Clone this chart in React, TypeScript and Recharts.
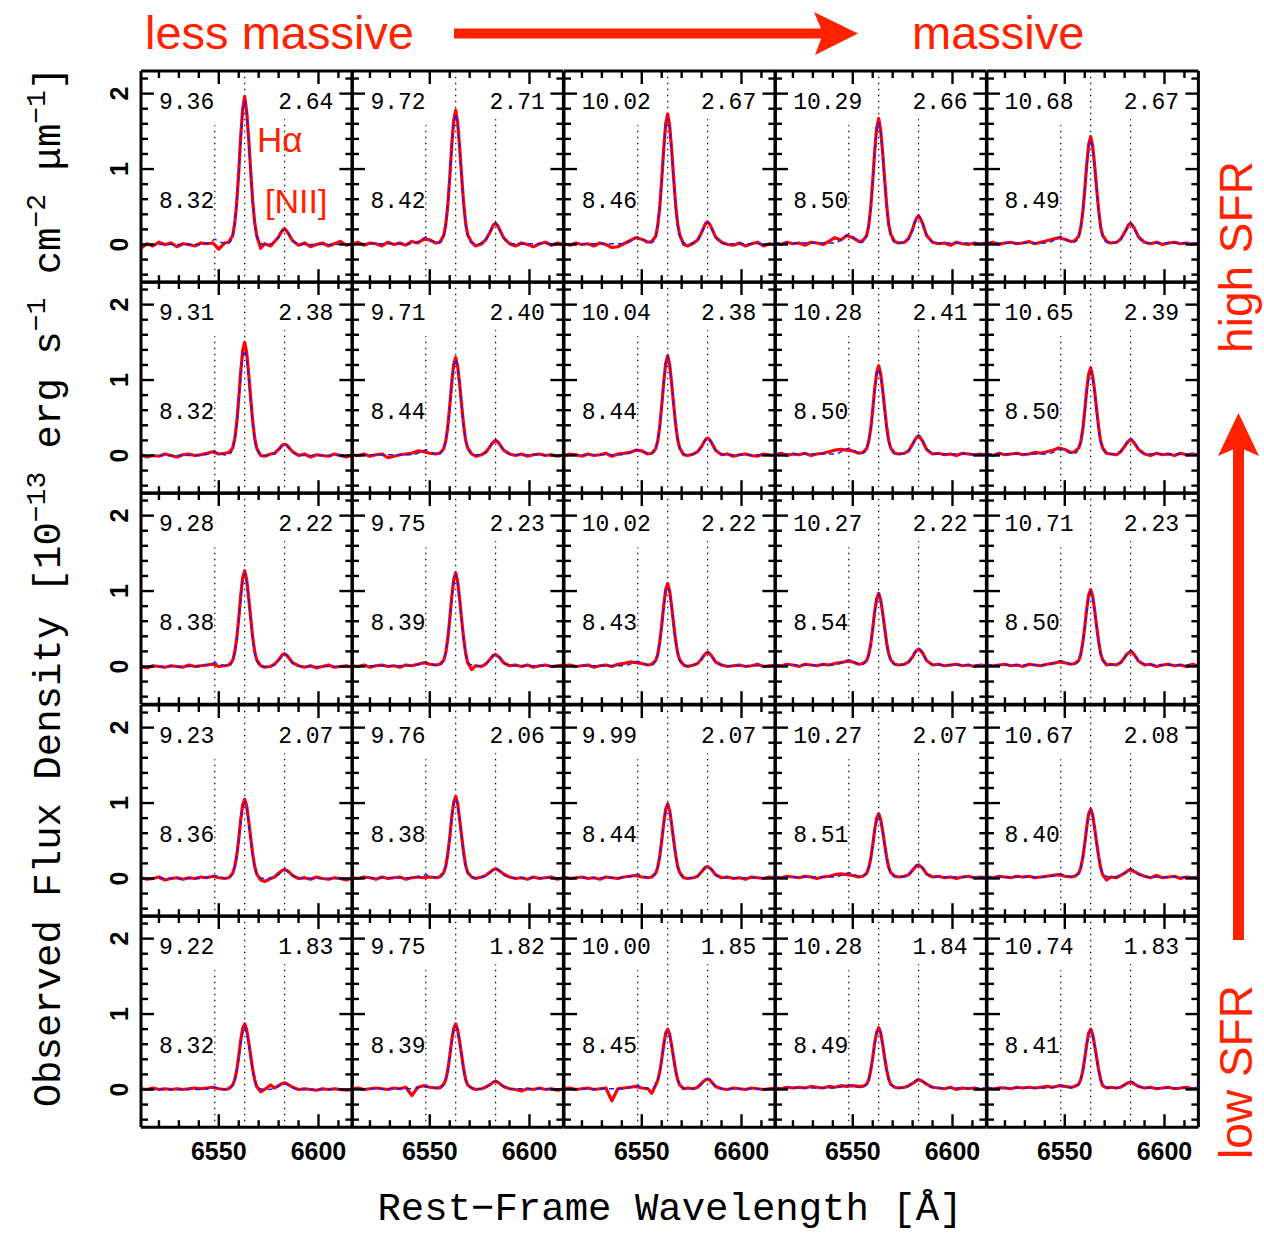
import React from "react";
import { LineChart, Line, XAxis, YAxis, ReferenceLine } from "recharts";

// wavelength grids (rest frame, Angstrom)
const WAVE_OBS = [6511, 6514, 6517, 6520, 6523, 6526, 6529, 6532, 6535, 6538, 6541, 6544, 6547, 6550, 6553, 6555, 6557, 6558, 6559, 6560, 6561, 6562, 6563, 6564, 6565, 6566, 6567, 6568, 6569, 6571, 6573, 6576, 6578, 6580, 6581, 6582, 6583, 6584, 6585, 6587, 6590, 6593, 6596, 6599, 6602, 6605, 6608, 6611, 6614, 6617];
const WAVE_FIT = [6511, 6542, 6545, 6548, 6551, 6554, 6556, 6557, 6558, 6559, 6560, 6561, 6562, 6563, 6564, 6565, 6566, 6567, 6568, 6569, 6570, 6572, 6575, 6578, 6580, 6581, 6582, 6583, 6584, 6585, 6586, 6588, 6591, 6617];

// observed stacked spectra, one row per SFR bin (high -> low), columns by mass
const OBS_1 = [
  [-0.05, 0.01, -0.02, 0.03, 0.00, 0.02, -0.03, 0.01, 0.00, -0.02, 0.02, 0.01, 0.02, -0.06, 0.02, 0.03, 0.12, 0.28, 0.55, 0.96, 1.43, 1.80, 1.96, 1.76, 1.40, 0.98, 0.58, 0.29, 0.12, -0.05, 0.01, -0.02, 0.04, 0.10, 0.15, 0.19, 0.21, 0.18, 0.14, 0.05, -0.01, 0.02, -0.03, 0.00, 0.02, -0.02, 0.01, 0.04, -0.01, 0.01],
  [0.00, 0.03, -0.01, 0.02, 0.01, -0.02, 0.03, 0.00, 0.02, -0.01, 0.04, 0.02, 0.07, 0.06, 0.02, 0.03, 0.12, 0.26, 0.51, 0.88, 1.31, 1.65, 1.78, 1.61, 1.28, 0.90, 0.54, 0.28, 0.13, 0.03, -0.02, 0.01, 0.06, 0.15, 0.21, 0.26, 0.28, 0.25, 0.20, 0.09, 0.01, -0.02, 0.02, 0.00, -0.03, 0.01, 0.03, -0.01, 0.02, 0.00],
  [0.01, -0.01, 0.02, 0.00, 0.01, -0.02, 0.02, 0.00, -0.04, -0.03, 0.01, 0.05, 0.09, 0.07, 0.03, 0.04, 0.11, 0.25, 0.49, 0.86, 1.27, 1.60, 1.73, 1.57, 1.25, 0.88, 0.52, 0.27, 0.13, 0.00, -0.02, 0.02, 0.06, 0.16, 0.22, 0.28, 0.30, 0.27, 0.22, 0.10, 0.03, 0.00, -0.01, 0.02, -0.02, 0.01, 0.03, -0.02, 0.01, 0.00],
  [0.02, 0.00, 0.03, 0.01, 0.02, -0.01, 0.03, 0.02, 0.00, 0.04, 0.09, 0.06, 0.12, 0.09, 0.04, 0.05, 0.12, 0.25, 0.49, 0.84, 1.24, 1.55, 1.67, 1.51, 1.21, 0.86, 0.52, 0.27, 0.14, 0.04, 0.02, 0.03, 0.08, 0.20, 0.29, 0.35, 0.38, 0.34, 0.28, 0.12, 0.03, 0.01, 0.02, -0.01, 0.03, 0.01, 0.00, 0.02, 0.01, 0.02],
  [0.01, 0.03, 0.00, 0.02, 0.03, 0.01, 0.02, 0.04, 0.01, 0.03, 0.05, 0.07, 0.09, 0.07, 0.04, 0.05, 0.11, 0.22, 0.42, 0.72, 1.06, 1.33, 1.43, 1.30, 1.04, 0.74, 0.45, 0.23, 0.12, 0.04, 0.02, 0.03, 0.07, 0.16, 0.21, 0.26, 0.28, 0.25, 0.21, 0.10, 0.03, 0.01, 0.03, 0.00, 0.02, 0.03, 0.01, 0.02, 0.00, 0.02],
];
const OBS_2 = [
  [0.01, -0.02, 0.00, -0.01, 0.02, 0.00, -0.02, 0.01, 0.02, 0.00, 0.01, 0.03, 0.05, 0.02, 0.03, 0.04, 0.10, 0.22, 0.43, 0.75, 1.11, 1.39, 1.50, 1.36, 1.08, 0.76, 0.46, 0.23, 0.10, 0.00, -0.01, 0.02, 0.03, 0.08, 0.11, 0.14, 0.15, 0.14, 0.11, 0.05, 0.00, 0.02, -0.02, 0.01, 0.00, -0.01, 0.02, 0.00, -0.02, 0.01],
  [0.01, 0.00, 0.02, -0.01, 0.01, 0.02, -0.03, -0.01, 0.01, 0.02, 0.03, 0.06, 0.05, 0.03, 0.02, 0.03, 0.09, 0.19, 0.37, 0.65, 0.96, 1.21, 1.30, 1.18, 0.94, 0.66, 0.40, 0.20, 0.10, 0.02, -0.01, 0.01, 0.04, 0.11, 0.15, 0.18, 0.20, 0.18, 0.15, 0.07, 0.02, 0.00, 0.02, -0.01, 0.01, 0.02, 0.00, 0.01, -0.01, 0.01],
  [0.00, 0.02, 0.01, -0.01, 0.02, 0.00, 0.01, 0.03, -0.01, 0.02, 0.03, 0.04, 0.07, 0.06, 0.02, 0.03, 0.09, 0.19, 0.38, 0.66, 0.97, 1.22, 1.32, 1.20, 0.95, 0.67, 0.41, 0.21, 0.10, 0.01, 0.00, 0.02, 0.05, 0.12, 0.17, 0.21, 0.23, 0.21, 0.17, 0.07, 0.01, 0.02, -0.01, 0.01, 0.02, 0.00, -0.01, 0.02, 0.01, 0.00],
  [0.01, 0.03, 0.00, 0.02, 0.01, 0.03, 0.00, 0.02, 0.03, 0.05, 0.07, 0.08, 0.07, 0.06, 0.03, 0.04, 0.09, 0.19, 0.35, 0.60, 0.89, 1.10, 1.19, 1.08, 0.87, 0.62, 0.38, 0.20, 0.10, 0.03, 0.02, 0.03, 0.06, 0.15, 0.20, 0.24, 0.26, 0.23, 0.19, 0.08, 0.02, 0.03, 0.01, 0.02, 0.00, 0.03, 0.02, 0.01, 0.02, 0.01],
  [0.02, 0.00, 0.03, 0.01, 0.02, 0.03, 0.01, 0.02, 0.04, 0.03, 0.05, 0.07, 0.10, 0.08, 0.04, 0.05, 0.10, 0.18, 0.34, 0.59, 0.87, 1.08, 1.16, 1.05, 0.85, 0.60, 0.37, 0.19, 0.10, 0.03, 0.02, 0.01, 0.05, 0.12, 0.16, 0.19, 0.21, 0.19, 0.16, 0.08, 0.02, 0.00, 0.03, 0.01, 0.02, 0.00, 0.03, 0.01, 0.02, 0.01],
];
const OBS_3 = [
  [0.00, -0.02, 0.01, 0.00, -0.01, 0.01, 0.00, -0.01, 0.02, 0.00, 0.01, 0.02, 0.03, 0.00, 0.01, 0.02, 0.08, 0.19, 0.37, 0.63, 0.94, 1.18, 1.27, 1.15, 0.91, 0.65, 0.39, 0.20, 0.09, 0.01, -0.01, 0.00, 0.03, 0.09, 0.12, 0.16, 0.17, 0.15, 0.12, 0.05, 0.01, -0.01, 0.01, -0.02, 0.00, 0.02, -0.01, 0.00, 0.01, -0.01],
  [0.01, 0.00, 0.02, -0.01, 0.01, 0.02, 0.00, 0.01, -0.01, 0.02, 0.01, 0.03, 0.05, 0.03, 0.02, 0.03, 0.08, 0.18, 0.36, 0.62, 0.92, 1.15, 1.24, 1.12, 0.89, 0.62, 0.37, 0.17, 0.05, -0.04, 0.01, 0.00, 0.03, 0.09, 0.12, 0.15, 0.16, 0.14, 0.12, 0.05, 0.01, 0.02, 0.00, 0.02, -0.01, 0.01, 0.02, 0.00, 0.01, 0.02],
  [0.01, 0.02, 0.00, 0.01, 0.02, -0.01, 0.01, 0.02, 0.00, 0.03, 0.04, 0.06, 0.05, 0.04, 0.02, 0.03, 0.08, 0.16, 0.32, 0.55, 0.81, 1.02, 1.10, 1.00, 0.79, 0.56, 0.34, 0.18, 0.09, 0.02, 0.00, 0.02, 0.04, 0.10, 0.14, 0.17, 0.19, 0.17, 0.14, 0.06, 0.02, 0.00, 0.01, 0.02, 0.00, 0.01, 0.03, 0.00, 0.01, 0.02],
  [0.02, 0.01, 0.03, 0.02, 0.00, 0.03, 0.02, 0.01, 0.03, 0.02, 0.04, 0.05, 0.07, 0.06, 0.03, 0.04, 0.08, 0.16, 0.29, 0.50, 0.73, 0.90, 0.97, 0.88, 0.71, 0.51, 0.31, 0.17, 0.09, 0.03, 0.02, 0.03, 0.06, 0.13, 0.18, 0.21, 0.23, 0.21, 0.18, 0.08, 0.02, 0.03, 0.01, 0.02, 0.03, 0.01, 0.02, 0.00, 0.02, 0.01],
  [0.02, 0.01, 0.02, 0.03, 0.01, 0.02, 0.00, 0.03, 0.02, 0.01, 0.03, 0.04, 0.06, 0.05, 0.03, 0.04, 0.08, 0.16, 0.31, 0.52, 0.76, 0.95, 1.02, 0.93, 0.74, 0.53, 0.33, 0.17, 0.09, 0.02, 0.03, 0.02, 0.05, 0.12, 0.16, 0.18, 0.20, 0.18, 0.15, 0.07, 0.02, 0.03, 0.00, 0.02, 0.03, 0.01, 0.02, 0.00, 0.03, 0.01],
];
const OBS_4 = [
  [0.01, -0.01, 0.00, 0.02, -0.02, 0.00, 0.01, -0.01, 0.01, 0.00, 0.02, 0.01, 0.03, 0.01, 0.00, 0.01, 0.07, 0.16, 0.30, 0.52, 0.78, 0.98, 1.05, 0.96, 0.76, 0.54, 0.33, 0.16, 0.06, -0.02, -0.04, 0.00, 0.02, 0.07, 0.09, 0.11, 0.12, 0.11, 0.09, 0.04, 0.00, 0.01, -0.01, 0.02, 0.00, -0.01, 0.01, 0.00, -0.02, 0.01],
  [0.01, 0.00, 0.02, 0.01, -0.01, 0.02, 0.00, 0.01, 0.02, -0.01, 0.01, 0.02, 0.01, 0.02, 0.01, 0.02, 0.08, 0.16, 0.32, 0.54, 0.81, 1.01, 1.09, 0.99, 0.78, 0.56, 0.34, 0.17, 0.08, 0.02, 0.00, 0.02, 0.04, 0.08, 0.10, 0.12, 0.13, 0.12, 0.10, 0.06, 0.02, 0.00, 0.01, -0.01, 0.02, 0.00, 0.01, 0.02, -0.01, 0.01],
  [0.02, 0.00, 0.01, 0.02, 0.00, 0.01, -0.01, 0.02, 0.01, 0.00, 0.02, 0.03, 0.04, 0.02, 0.01, 0.02, 0.07, 0.15, 0.29, 0.50, 0.73, 0.92, 0.99, 0.90, 0.71, 0.51, 0.31, 0.16, 0.08, 0.01, 0.00, 0.01, 0.03, 0.09, 0.12, 0.15, 0.16, 0.14, 0.12, 0.05, 0.01, 0.02, 0.00, 0.01, -0.01, 0.02, 0.01, 0.00, 0.02, 0.01],
  [0.02, 0.01, 0.03, 0.02, 0.01, 0.03, 0.02, 0.00, 0.02, 0.03, 0.05, 0.06, 0.05, 0.04, 0.02, 0.03, 0.07, 0.14, 0.26, 0.44, 0.65, 0.80, 0.86, 0.78, 0.63, 0.45, 0.28, 0.15, 0.08, 0.03, 0.02, 0.03, 0.05, 0.11, 0.14, 0.17, 0.18, 0.16, 0.14, 0.06, 0.02, 0.03, 0.01, 0.02, 0.00, 0.02, 0.03, 0.01, 0.02, 0.01],
  [0.02, 0.01, 0.03, 0.02, 0.01, 0.03, 0.02, 0.03, 0.01, 0.02, 0.03, 0.04, 0.05, 0.03, 0.02, 0.03, 0.07, 0.14, 0.27, 0.46, 0.68, 0.86, 0.92, 0.84, 0.66, 0.47, 0.29, 0.14, 0.05, -0.02, 0.02, 0.01, 0.04, 0.07, 0.09, 0.11, 0.12, 0.10, 0.09, 0.06, 0.03, 0.01, 0.04, 0.01, 0.02, 0.03, 0.00, 0.02, 0.01, 0.02],
];
const OBS_5 = [
  [0.01, 0.00, 0.02, 0.00, 0.01, 0.00, 0.01, 0.00, 0.01, 0.02, 0.01, 0.02, 0.03, 0.01, 0.00, 0.01, 0.06, 0.13, 0.25, 0.44, 0.65, 0.81, 0.87, 0.79, 0.63, 0.45, 0.27, 0.13, 0.04, -0.03, 0.00, 0.06, 0.02, 0.05, 0.07, 0.08, 0.09, 0.08, 0.06, 0.03, 0.00, 0.01, 0.00, -0.01, 0.01, 0.00, 0.01, 0.00, -0.01, 0.00],
  [0.01, 0.02, 0.00, 0.01, 0.02, 0.01, 0.00, 0.02, 0.01, 0.03, -0.08, 0.03, 0.05, 0.03, 0.02, 0.02, 0.07, 0.13, 0.25, 0.44, 0.65, 0.81, 0.87, 0.79, 0.63, 0.45, 0.27, 0.13, 0.06, 0.02, 0.00, 0.01, 0.03, 0.06, 0.08, 0.10, 0.11, 0.10, 0.08, 0.04, 0.01, 0.00, -0.02, 0.01, 0.00, 0.02, 0.00, 0.01, -0.01, 0.01],
  [0.01, 0.02, 0.00, 0.01, 0.02, 0.00, 0.01, 0.02, -0.15, 0.01, 0.02, 0.03, 0.04, 0.02, 0.01, -0.05, 0.06, 0.12, 0.23, 0.40, 0.59, 0.75, 0.80, 0.73, 0.58, 0.41, 0.25, 0.13, 0.06, 0.01, 0.02, 0.01, 0.03, 0.08, 0.11, 0.13, 0.14, 0.13, 0.10, 0.04, 0.01, 0.00, 0.02, 0.01, 0.00, 0.02, 0.01, 0.00, 0.01, 0.02],
  [0.02, 0.01, 0.03, 0.02, 0.03, 0.02, 0.04, 0.03, 0.02, 0.04, 0.03, 0.05, 0.04, 0.05, 0.04, 0.04, 0.07, 0.13, 0.25, 0.42, 0.62, 0.76, 0.82, 0.75, 0.60, 0.42, 0.26, 0.14, 0.07, 0.03, 0.02, 0.03, 0.05, 0.08, 0.10, 0.12, 0.13, 0.12, 0.11, 0.07, 0.03, 0.02, 0.01, 0.03, 0.00, 0.02, 0.01, 0.02, 0.00, 0.01],
  [0.02, 0.01, 0.02, 0.02, 0.01, 0.03, 0.02, 0.03, 0.02, 0.03, 0.04, 0.03, 0.05, 0.04, 0.03, 0.04, 0.07, 0.13, 0.24, 0.41, 0.60, 0.75, 0.80, 0.73, 0.58, 0.42, 0.26, 0.13, 0.05, 0.02, 0.03, 0.02, 0.03, 0.06, 0.08, 0.09, 0.10, 0.09, 0.07, 0.04, 0.02, 0.03, 0.01, 0.02, 0.03, 0.01, 0.02, 0.03, 0.01, 0.02],
];

// best-fit line profiles (blue)
const FIT_1 = [
  [0, 0, 0.03, 0.07, 0.03, 0, 0.04, 0.11, 0.27, 0.53, 0.93, 1.39, 1.75, 1.90, 1.75, 1.39, 0.93, 0.53, 0.27, 0.11, 0.04, 0, 0, 0.03, 0.10, 0.15, 0.18, 0.20, 0.18, 0.15, 0.10, 0.03, 0, 0],
  [0.01, 0.01, 0.05, 0.10, 0.05, 0.01, 0.04, 0.11, 0.25, 0.49, 0.85, 1.27, 1.59, 1.73, 1.59, 1.27, 0.85, 0.49, 0.25, 0.11, 0.04, 0.01, 0.01, 0.05, 0.14, 0.21, 0.26, 0.28, 0.26, 0.21, 0.14, 0.05, 0.01, 0.01],
  [0.01, 0.01, 0.06, 0.10, 0.06, 0.01, 0.04, 0.11, 0.24, 0.48, 0.82, 1.22, 1.54, 1.67, 1.54, 1.22, 0.82, 0.48, 0.24, 0.11, 0.04, 0.01, 0.01, 0.05, 0.15, 0.21, 0.27, 0.29, 0.27, 0.21, 0.15, 0.05, 0.01, 0.01],
  [0.02, 0.02, 0.08, 0.14, 0.08, 0.02, 0.05, 0.12, 0.24, 0.47, 0.80, 1.19, 1.49, 1.62, 1.49, 1.19, 0.80, 0.47, 0.24, 0.12, 0.05, 0.02, 0.02, 0.07, 0.20, 0.28, 0.35, 0.38, 0.35, 0.28, 0.20, 0.07, 0.02, 0.02],
  [0.02, 0.02, 0.06, 0.11, 0.06, 0.02, 0.05, 0.10, 0.21, 0.40, 0.69, 1.01, 1.27, 1.38, 1.27, 1.01, 0.69, 0.40, 0.21, 0.10, 0.05, 0.02, 0.02, 0.06, 0.15, 0.21, 0.26, 0.28, 0.26, 0.21, 0.15, 0.06, 0.02, 0.02],
];
const FIT_2 = [
  [0, 0, 0.02, 0.05, 0.02, 0, 0.03, 0.08, 0.20, 0.39, 0.69, 1.02, 1.29, 1.40, 1.29, 1.02, 0.69, 0.39, 0.20, 0.08, 0.03, 0, 0, 0.02, 0.07, 0.10, 0.13, 0.14, 0.13, 0.10, 0.07, 0.02, 0, 0],
  [0.01, 0.01, 0.04, 0.08, 0.04, 0.01, 0.04, 0.09, 0.19, 0.37, 0.63, 0.94, 1.18, 1.28, 1.18, 0.94, 0.63, 0.37, 0.19, 0.09, 0.04, 0.01, 0.01, 0.04, 0.11, 0.16, 0.19, 0.21, 0.19, 0.16, 0.11, 0.04, 0.01, 0.01],
  [0.01, 0.01, 0.05, 0.08, 0.05, 0.01, 0.04, 0.09, 0.19, 0.37, 0.65, 0.96, 1.21, 1.31, 1.21, 0.96, 0.65, 0.37, 0.19, 0.09, 0.04, 0.01, 0.01, 0.04, 0.12, 0.17, 0.21, 0.23, 0.21, 0.17, 0.12, 0.04, 0.01, 0.01],
  [0.02, 0.02, 0.06, 0.10, 0.06, 0.02, 0.04, 0.09, 0.18, 0.34, 0.57, 0.85, 1.06, 1.15, 1.06, 0.85, 0.57, 0.34, 0.18, 0.09, 0.04, 0.02, 0.02, 0.06, 0.14, 0.20, 0.25, 0.27, 0.25, 0.20, 0.14, 0.06, 0.02, 0.02],
  [0.02, 0.02, 0.05, 0.09, 0.05, 0.02, 0.04, 0.09, 0.17, 0.32, 0.55, 0.81, 1.01, 1.10, 1.01, 0.81, 0.55, 0.32, 0.17, 0.09, 0.04, 0.02, 0.02, 0.05, 0.12, 0.17, 0.21, 0.23, 0.21, 0.17, 0.12, 0.05, 0.02, 0.02],
];
const FIT_3 = [
  [0, 0, 0.03, 0.05, 0.03, 0, 0.02, 0.07, 0.17, 0.34, 0.60, 0.89, 1.12, 1.22, 1.12, 0.89, 0.60, 0.34, 0.17, 0.07, 0.02, 0, 0, 0.02, 0.08, 0.12, 0.15, 0.16, 0.15, 0.12, 0.08, 0.02, 0, 0],
  [0.01, 0.01, 0.03, 0.06, 0.03, 0.01, 0.03, 0.08, 0.18, 0.35, 0.60, 0.89, 1.11, 1.21, 1.11, 0.89, 0.60, 0.35, 0.18, 0.08, 0.03, 0.01, 0.01, 0.03, 0.08, 0.12, 0.15, 0.16, 0.15, 0.12, 0.08, 0.03, 0.01, 0.01],
  [0.01, 0.01, 0.04, 0.07, 0.04, 0.01, 0.03, 0.07, 0.16, 0.30, 0.52, 0.77, 0.97, 1.05, 0.97, 0.77, 0.52, 0.30, 0.16, 0.07, 0.03, 0.01, 0.01, 0.04, 0.10, 0.14, 0.18, 0.19, 0.18, 0.14, 0.10, 0.04, 0.01, 0.01],
  [0.02, 0.02, 0.06, 0.09, 0.06, 0.02, 0.04, 0.08, 0.15, 0.28, 0.48, 0.71, 0.89, 0.96, 0.89, 0.71, 0.48, 0.28, 0.15, 0.08, 0.04, 0.02, 0.02, 0.05, 0.13, 0.18, 0.22, 0.24, 0.22, 0.18, 0.13, 0.05, 0.02, 0.02],
  [0.02, 0.02, 0.05, 0.08, 0.05, 0.02, 0.04, 0.08, 0.16, 0.29, 0.50, 0.73, 0.91, 0.99, 0.91, 0.73, 0.50, 0.29, 0.16, 0.08, 0.04, 0.02, 0.02, 0.05, 0.11, 0.16, 0.20, 0.21, 0.20, 0.16, 0.11, 0.05, 0.02, 0.02],
];
const FIT_4 = [
  [0, 0, 0.02, 0.04, 0.02, 0, 0.02, 0.06, 0.14, 0.28, 0.49, 0.73, 0.92, 1.00, 0.92, 0.73, 0.49, 0.28, 0.14, 0.06, 0.02, 0, 0, 0.02, 0.05, 0.08, 0.10, 0.11, 0.10, 0.08, 0.05, 0.02, 0, 0],
  [0.01, 0.01, 0.03, 0.05, 0.03, 0.01, 0.03, 0.07, 0.16, 0.30, 0.52, 0.78, 0.98, 1.06, 0.98, 0.78, 0.52, 0.30, 0.16, 0.07, 0.03, 0.01, 0.01, 0.03, 0.07, 0.10, 0.12, 0.13, 0.12, 0.10, 0.07, 0.03, 0.01, 0.01],
  [0.01, 0.01, 0.03, 0.06, 0.03, 0.01, 0.03, 0.07, 0.14, 0.28, 0.48, 0.71, 0.89, 0.97, 0.89, 0.71, 0.48, 0.28, 0.14, 0.07, 0.03, 0.01, 0.01, 0.03, 0.08, 0.12, 0.15, 0.16, 0.15, 0.12, 0.08, 0.03, 0.01, 0.01],
  [0.02, 0.02, 0.05, 0.08, 0.05, 0.02, 0.04, 0.07, 0.14, 0.25, 0.42, 0.62, 0.77, 0.84, 0.77, 0.62, 0.42, 0.25, 0.14, 0.07, 0.04, 0.02, 0.02, 0.04, 0.10, 0.14, 0.18, 0.19, 0.18, 0.14, 0.10, 0.04, 0.02, 0.02],
  [0.02, 0.02, 0.04, 0.06, 0.04, 0.02, 0.04, 0.07, 0.14, 0.27, 0.45, 0.66, 0.83, 0.90, 0.83, 0.66, 0.45, 0.27, 0.14, 0.07, 0.04, 0.02, 0.02, 0.04, 0.07, 0.10, 0.12, 0.13, 0.12, 0.10, 0.07, 0.04, 0.02, 0.02],
];
const FIT_5 = [
  [0, 0, 0.01, 0.03, 0.01, 0, 0.02, 0.05, 0.11, 0.23, 0.40, 0.60, 0.75, 0.82, 0.75, 0.60, 0.40, 0.23, 0.11, 0.05, 0.02, 0, 0, 0.01, 0.04, 0.06, 0.07, 0.08, 0.07, 0.06, 0.04, 0.01, 0, 0],
  [0.01, 0.01, 0.03, 0.04, 0.03, 0.01, 0.03, 0.06, 0.13, 0.24, 0.42, 0.62, 0.77, 0.84, 0.77, 0.62, 0.42, 0.24, 0.13, 0.06, 0.03, 0.01, 0.01, 0.02, 0.06, 0.08, 0.10, 0.11, 0.10, 0.08, 0.06, 0.02, 0.01, 0.01],
  [0.01, 0.01, 0.03, 0.05, 0.03, 0.01, 0.03, 0.06, 0.12, 0.22, 0.38, 0.57, 0.71, 0.77, 0.71, 0.57, 0.38, 0.22, 0.12, 0.06, 0.03, 0.01, 0.01, 0.03, 0.07, 0.11, 0.13, 0.14, 0.13, 0.11, 0.07, 0.03, 0.01, 0.01],
  [0.02, 0.02, 0.04, 0.06, 0.04, 0.02, 0.04, 0.07, 0.13, 0.24, 0.40, 0.59, 0.74, 0.80, 0.74, 0.59, 0.40, 0.24, 0.13, 0.07, 0.04, 0.02, 0.02, 0.04, 0.08, 0.11, 0.13, 0.14, 0.13, 0.11, 0.08, 0.04, 0.02, 0.02],
  [0.02, 0.02, 0.03, 0.05, 0.03, 0.02, 0.04, 0.07, 0.13, 0.23, 0.39, 0.57, 0.72, 0.78, 0.72, 0.57, 0.39, 0.23, 0.13, 0.07, 0.04, 0.02, 0.02, 0.03, 0.06, 0.08, 0.10, 0.11, 0.10, 0.08, 0.06, 0.03, 0.02, 0.02],
];

const OBS = [OBS_1, OBS_2, OBS_3, OBS_4, OBS_5];
const FIT = [FIT_1, FIT_2, FIT_3, FIT_4, FIT_5];

// panel annotations: stellar mass, SFR, metallicity
const MASS = [
  ["9.36", "9.72", "10.02", "10.29", "10.68"],
  ["9.31", "9.71", "10.04", "10.28", "10.65"],
  ["9.28", "9.75", "10.02", "10.27", "10.71"],
  ["9.23", "9.76", "9.99", "10.27", "10.67"],
  ["9.22", "9.75", "10.00", "10.28", "10.74"],
];
const SFR = [
  ["2.64", "2.71", "2.67", "2.66", "2.67"],
  ["2.38", "2.40", "2.38", "2.41", "2.39"],
  ["2.22", "2.23", "2.22", "2.22", "2.23"],
  ["2.07", "2.06", "2.07", "2.07", "2.08"],
  ["1.83", "1.82", "1.85", "1.84", "1.83"],
];
const OH = [
  ["8.32", "8.42", "8.46", "8.50", "8.49"],
  ["8.32", "8.44", "8.44", "8.50", "8.50"],
  ["8.38", "8.39", "8.43", "8.54", "8.50"],
  ["8.36", "8.38", "8.44", "8.51", "8.40"],
  ["8.32", "8.39", "8.45", "8.49", "8.41"],
];

const X_TICKS = [6520, 6530, 6540, 6550, 6560, 6570, 6580, 6590, 6600, 6610];
const X_MAJOR = [6550, 6600];
const Y_TICKS = [-0.4, -0.2, 0, 0.2, 0.4, 0.6, 0.8, 1, 1.2, 1.4, 1.6, 1.8, 2, 2.2];
const Y_MAJOR = [0, 1, 2];
const LINE_MARKS = [6548, 6563, 6583];
const LINE_TOPS = [1.58, 2.3, 1.66];

const X0 = 141;
const Y0 = 71;
const PW = 211.4;
const PH = 211.2;
const AX = 2; // thin band reserved for each axis
const X_DOMAIN: [number, number] = [6511, 6617];
const Y_DOMAIN: [number, number] = [-0.5, 2.3];
const RED = "#ff2200";
const FRAME = { stroke: "#000", strokeWidth: 3 };
const MONO = "'Liberation Mono', 'DejaVu Sans Mono', monospace";
const SANS = "'Liberation Sans', Arial, Helvetica, sans-serif";

const xTick = (side: "top" | "bottom", label: boolean) => (props: any) => {
  const { x, y, payload } = props;
  const major = X_MAJOR.includes(payload.value);
  const len = major ? 13 : 7;
  const y2 = side === "bottom" ? y - len : y + len;
  return (
    <g>
      <line x1={x} y1={y} x2={x} y2={y2} stroke="#000" strokeWidth={2.4} />
      {label && major ? (
        <text x={x} y={y + 33} textAnchor="middle" fontFamily={SANS} fontWeight="bold" fontSize={25} fill="#000">
          {payload.value}
        </text>
      ) : null}
    </g>
  );
};

const yTick = (side: "left" | "right", label: boolean) => (props: any) => {
  const { x, y, payload } = props;
  const major = Y_MAJOR.includes(payload.value);
  const len = major ? 13 : 7;
  const x2 = side === "left" ? x + len : x - len;
  return (
    <g>
      <line x1={x} y1={y} x2={x2} y2={y} stroke="#000" strokeWidth={2.4} />
      {label && major ? (
        <text
          x={x - 22}
          y={y}
          transform={`rotate(-90 ${x - 22} ${y})`}
          textAnchor="middle"
          dominantBaseline="central"
          fontFamily={SANS}
          fontWeight="bold"
          fontSize={25}
          fill="#000"
        >
          {payload.value}
        </text>
      ) : null}
    </g>
  );
};

function Panel({ row, col }: { row: number; col: number }) {
  const obs = OBS[row][col];
  const fit = FIT[row][col];
  const obsData = WAVE_OBS.map((w, i) => ({ w, f: obs[i] }));
  const fitData = WAVE_FIT.map((w, i) => ({ w, f: fit[i] }));
  return (
    <div style={{ position: "absolute", left: X0 + col * PW - AX, top: Y0 + row * PH - AX }}>
      <LineChart width={PW + 2 * AX} height={PH + 2 * AX} margin={{ top: 0, right: 0, bottom: 0, left: 0 }}>
        <XAxis xAxisId="b" type="number" dataKey="w" domain={X_DOMAIN} allowDataOverflow ticks={X_TICKS} interval={0}
          height={AX} tickSize={0} tickMargin={0} tickLine={false} axisLine={FRAME} tick={xTick("bottom", row === 4)} />
        <XAxis xAxisId="t" orientation="top" type="number" dataKey="w" domain={X_DOMAIN} allowDataOverflow ticks={X_TICKS} interval={0}
          height={AX} tickSize={0} tickMargin={0} tickLine={false} axisLine={FRAME} tick={xTick("top", false)} />
        <YAxis yAxisId="l" type="number" domain={Y_DOMAIN} allowDataOverflow ticks={Y_TICKS} interval={0}
          width={AX} tickSize={0} tickMargin={0} tickLine={false} axisLine={FRAME} tick={yTick("left", col === 0)} />
        <YAxis yAxisId="r" orientation="right" type="number" domain={Y_DOMAIN} allowDataOverflow ticks={Y_TICKS} interval={0}
          width={AX} tickSize={0} tickMargin={0} tickLine={false} axisLine={FRAME} tick={yTick("right", false)} />
        {LINE_MARKS.map((m, i) => (
          <ReferenceLine key={m} xAxisId="b" yAxisId="l" ifOverflow="visible"
            segment={[{ x: m, y: -0.5 }, { x: m, y: LINE_TOPS[i] }]}
            stroke="#000" strokeWidth={1.2} strokeDasharray="1.5 4.5" />
        ))}
        <Line xAxisId="b" yAxisId="l" data={obsData} dataKey="f" type="linear" stroke="#ff0000" strokeWidth={3.2}
          strokeLinejoin="round" dot={false} activeDot={false} isAnimationActive={false} />
        <Line xAxisId="b" yAxisId="l" data={fitData} dataKey="f" type="linear" stroke="#1a1aff" strokeWidth={1.4}
          strokeDasharray="5 4" dot={false} activeDot={false} isAnimationActive={false} />
      </LineChart>
    </div>
  );
}

export default function App() {
  const panels = [];
  for (let r = 0; r < 5; r++) for (let c = 0; c < 5; c++) panels.push(<Panel key={`${r}-${c}`} row={r} col={c} />);
  const labels = [];
  for (let r = 0; r < 5; r++) {
    for (let c = 0; c < 5; c++) {
      const left = X0 + c * PW;
      const top = Y0 + r * PH;
      labels.push(
        <g key={`l${r}-${c}`} fontFamily={MONO} fontSize={23} fill="#000">
          <text x={left + 18} y={top + 38}>{MASS[r][c]}</text>
          <text x={left + PW - 19} y={top + 38} textAnchor="end">{SFR[r][c]}</text>
          <text x={left + 18} y={top + 137}>{OH[r][c]}</text>
        </g>
      );
    }
  }
  const sup = 28;
  return (
    <div style={{ position: "absolute", left: 0, top: 0, width: 1264, height: 1237, background: "#fff" }}>
      <style>{".recharts-surface{overflow:visible}"}</style>
      {panels}
      <svg width={1264} height={1237} style={{ position: "absolute", left: 0, top: 0, pointerEvents: "none" }}>
        {labels}
        <text x={257} y={152} fontFamily={SANS} fontSize={35} fill={RED}>Hα</text>
        <text x={265} y={213} fontFamily={SANS} fontSize={34} fill={RED}>[NII]</text>

        <text x={145} y={49} fontFamily={SANS} fontSize={47} fill={RED}>less massive</text>
        <text x={912} y={49} fontFamily={SANS} fontSize={47} fill={RED}>massive</text>
        <rect x={454} y={28.5} width={370} height={10} fill={RED} />
        <polygon points="814,12 858,33.5 815,55 823,33.5" fill={RED} />

        <text transform="translate(1252 257) rotate(-90)" textAnchor="middle" fontFamily={SANS} fontSize={46} fill={RED}>high SFR</text>
        <text transform="translate(1252 1072) rotate(-90)" textAnchor="middle" fontFamily={SANS} fontSize={46} fill={RED}>low SFR</text>
        <rect x={1233} y={447} width={11} height={493} fill={RED} />
        <polygon points="1238.5,413 1259,456 1238.5,447 1218,456" fill={RED} />

        <text x={670} y={1220} textAnchor="middle" fontFamily={MONO} fontSize={39} fill="#000">Rest−Frame Wavelength [Å]</text>
        <text transform="translate(60 587) rotate(-90)" textAnchor="middle" fontFamily={MONO} fontSize={39} fill="#000">
          {"Observed Flux Density [10"}
          <tspan dy={-15} fontSize={sup}>−13</tspan>
          <tspan dy={15}>{" erg s"}</tspan>
          <tspan dy={-15} fontSize={sup}>−1</tspan>
          <tspan dy={15}>{" cm"}</tspan>
          <tspan dy={-15} fontSize={sup}>−2</tspan>
          <tspan dy={15}>{" μm"}</tspan>
          <tspan dy={-15} fontSize={sup}>−1</tspan>
          <tspan dy={15}>]</tspan>
        </text>
      </svg>
    </div>
  );
}
